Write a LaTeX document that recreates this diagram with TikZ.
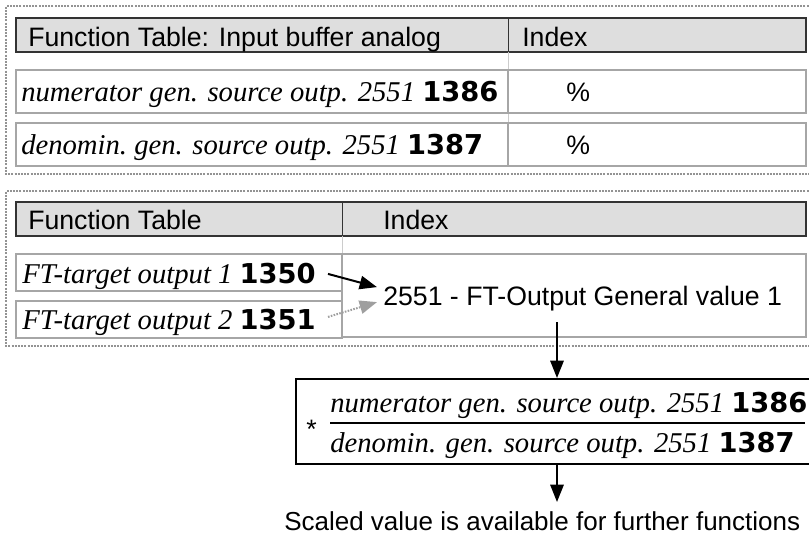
\documentclass[tikz,border=0pt]{standalone}
\usepackage{fontspec}
\setmainfont{Liberation Serif}
\setsansfont{Liberation Sans}
\newfontfamily\digitfont{DejaVu Sans}
\usetikzlibrary{calc,arrows.meta}
\tikzset{
	frame/.style={gray!85, line width=1.1pt, dash pattern=on 1.5pt off 0.9pt},
	head/.style={draw=black!80, fill=black!13, line width=1pt},
	cell/.style={draw=gray!70, line width=1pt},
	txt/.style={anchor=base west, inner sep=0pt, font=\sffamily\fontsize{20}{23}\selectfont},
	ita/.style={anchor=base west, inner sep=0pt, font=\fontsize{21.5}{25}\selectfont\itshape},
	arr/.style={-{Triangle[length=13pt,width=10pt]}, line width=1.5pt},
}
\newcommand\bnum[1]{{\digitfont\bfseries\upshape\fontsize{20.5}{23}\selectfont #1}}

\begin{document}
\begin{tikzpicture}[x=0.75pt,y=-0.75pt]
\useasboundingbox (0,0) rectangle (809,535);
\draw[frame] (815,6) -| (6,174) -- (815,174);
\draw[head] (16,18) rectangle (806,52);
\draw[black!80] (508,18) -- (508,52);
\draw[gray!40] (508,52) -- (508,167);
\node[txt] (hd1) at (28,46) {Function Table: Input buffer analog};
\node[txt] (ix1) at (522,46) {Index};
\foreach \y/\w/\n [count=\i] in {70/numerator/1386,123/denomin./1387} {
	\draw[cell] (16,\y) rectangle (508,\y+43) (508,\y) rectangle (806,\y+43);
	\node[ita] (src\i) at (21,\y+31) {\w\ gen. source outp. 2551 \bnum{\n}};
	\node[txt] (pc\i) at (566,\y+31) {\%};
}
\draw[frame] (815,191) -| (6,346) -- (815,346);
\draw[head] (16,202) rectangle (806,236);
\draw[black!80] (342,202) -- (342,236);
\draw[gray!40] (342,236) -- (342,254);
\node[txt] (hd2) at (28,229) {Function Table};
\node[txt] (ix2) at (383,229) {Index};
\draw[cell] (16,254) rectangle (342,291) (16,301) rectangle (342,338) (342,254) rectangle (806,337);
\node[ita] (ft1) at (22,283) {FT-target output 1 \bnum{1350}};
\node[ita] (ft2) at (22,329) {FT-target output 2 \bnum{1351}};
\node[txt] (val) at (383,305) {2551 - FT-Output General value 1};
\draw[arr] ($ (ft1.east)+(12,-2) $) -- ($ (val.west)+(-6,-11) $);
\draw[arr, gray!75, dash pattern=on 1.2pt off 1pt] ($ (ft2.east)+(12,-5) $) -- ($ (val.west)+(-6,4) $);
\draw[line width=1.5pt] (815,379) -| (296,464) -- (815,464);
\node[txt] (ast) at (306,438) {*};
\draw[line width=2pt] (330,423) -- (805,423);
\node[ita] (num) at (330,412) {numerator gen. source outp. 2551 \bnum{1386}};
\node[ita] (den) at (330,452) {denomin. gen. source outp. 2551 \bnum{1387}};
\coordinate (d1) at (557,322);
\coordinate (d2) at (557,378);
\coordinate (d3) at (557,465);
\coordinate (d4) at (557,502);
\draw[arr] (d1) -- (d2);
\draw[arr] (d3) -- (d4);
\node[txt, font=\sffamily\fontsize{19.5}{23}\selectfont] (scl) at (284,530) {Scaled value is available for further functions};
\end{tikzpicture}
\end{document}
